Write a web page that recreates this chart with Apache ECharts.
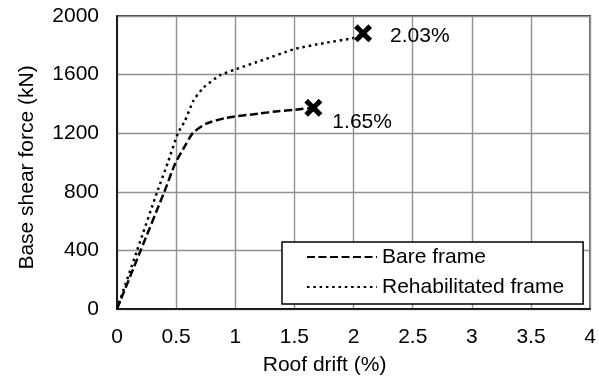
<!DOCTYPE html>
<html>
<head>
<meta charset="utf-8">
<script src="https://cdn.jsdelivr.net/npm/echarts@6/dist/echarts.min.js"></script>
<style>html,body{margin:0;padding:0;background:#fff}#c{width:599px;height:381px}</style>
</head>
<body>
<div id="c"></div>
<script>
const xTicks = [0, 0.5, 1, 1.5, 2, 2.5, 3, 3.5, 4];
const yTicks = [0, 400, 800, 1200, 1600, 2000];
const bareDrift = [0, 0.2, 0.4, 0.49, 0.558, 0.643, 0.755, 0.925, 1.2, 1.36, 1.5, 1.66];
const bareForce = [0, 400, 800, 990, 1090, 1203, 1266, 1305, 1334, 1350, 1360, 1373];
const rehabDrift = [0, 0.17, 0.34, 0.43, 0.515, 0.575, 0.645, 0.73, 0.87, 1.0, 1.235, 1.5, 1.75, 2.0, 2.08];
const rehabForce = [0, 400, 800, 1000, 1200, 1285, 1420, 1510, 1595, 1635, 1700, 1774, 1815, 1850, 1880];
const peakDrift = [1.66, 2.08];
const peakForce = [1373, 1882];
const peakLabels = ['1.65%', '2.03%'];
const seriesNames = ['Bare frame', 'Rehabilitated frame'];

const FONT = 'Liberation Sans, Arial, sans-serif';
const FS = 21;
const chart = echarts.init(document.getElementById('c'), null, {renderer: 'canvas'});
const zip = (a, b) => a.map((v, i) => [v, b[i]]);
const xMark = 'path://M4,0 L10,6 L16,0 L20,4 L14,10 L20,16 L16,20 L10,14 L4,20 L0,16 L6,10 L0,4 Z';
const labelPos = [[28, 23], [36, 12]];

chart.setOption({
  animation: false,
  color: ['#000', '#000', '#000'],
  textStyle: {fontFamily: FONT},
  grid: {left: 117, right: 8, top: 16, bottom: 70.5, show: true, borderColor: '#000', borderWidth: 1.5, backgroundColor: 'transparent'},
  legend: {
    data: seriesNames,
    orient: 'vertical',
    left: 282, top: 242,
    backgroundColor: '#fff',
    borderColor: '#000', borderWidth: 1.5, borderRadius: 0,
    padding: [4, 19, 6, 24],
    itemWidth: 70, itemHeight: 14, itemGap: 8,
    itemStyle: {opacity: 0},
    textStyle: {fontSize: FS, lineHeight: 22, color: '#000', fontFamily: FONT}
  },
  xAxis: {
    type: 'value', min: xTicks[0], max: xTicks[xTicks.length - 1], interval: 0.5,
    name: 'Roof drift (%)', nameLocation: 'middle', nameGap: 46,
    nameTextStyle: {fontSize: FS, color: '#000', fontFamily: FONT, padding: [0, 58, 0, 0]},
    axisLine: {show: true, onZero: false, lineStyle: {color: '#000', width: 1.5}},
    axisTick: {show: false},
    axisLabel: {fontSize: FS, color: '#000', margin: 18, fontFamily: FONT, formatter: v => String(v)},
    splitLine: {show: true, lineStyle: {color: '#919191', width: 1.4}}
  },
  yAxis: {
    type: 'value', min: yTicks[0], max: yTicks[yTicks.length - 1], interval: 400,
    name: 'Base shear force (kN)', nameLocation: 'middle', nameGap: 79,
    nameTextStyle: {fontSize: FS, color: '#000', fontFamily: FONT, padding: [0, 10, 0, 0]},
    axisLine: {show: true, lineStyle: {color: '#000', width: 1.5}},
    axisTick: {show: false},
    axisLabel: {fontSize: FS, color: '#000', margin: 18, fontFamily: FONT, formatter: v => String(v)},
    splitLine: {show: true, lineStyle: {color: '#919191', width: 1.4}}
  },
  series: [
    {
      name: seriesNames[0], type: 'line', data: zip(bareDrift, bareForce),
      symbol: 'none', smooth: 0.2, z: 3,
      itemStyle: {color: '#000'},
      lineStyle: {color: '#000', width: 2.5, type: [8, 3.5]}
    },
    {
      name: seriesNames[1], type: 'line', data: zip(rehabDrift, rehabForce),
      symbol: 'none', smooth: 0.2, z: 3,
      itemStyle: {color: '#000'},
      lineStyle: {color: '#000', width: 2.5, type: [2.5, 3.8]}
    },
    {
      name: 'peak', type: 'scatter', symbol: xMark, symbolSize: 18, z: 5,
      itemStyle: {color: '#000', opacity: 1},
      data: peakDrift.map((d, i) => ({
        value: [d, peakForce[i]],
        label: {show: true, formatter: peakLabels[i], position: labelPos[i], align: 'left', verticalAlign: 'middle',
          fontSize: FS, color: '#000', fontFamily: FONT}
      }))
    }
  ]
});
</script>
</body>
</html>
